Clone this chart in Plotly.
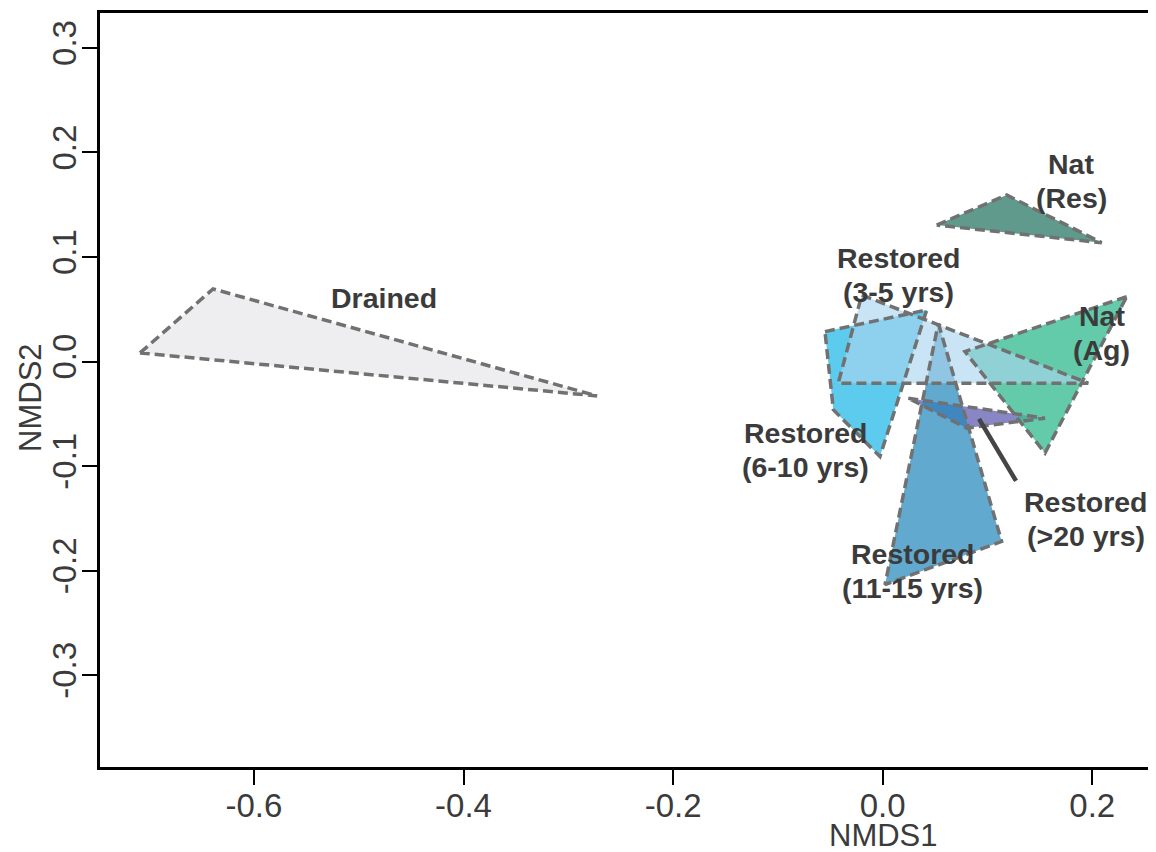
import plotly.graph_objects as go

# ---- data (NMDS hull vertices) ----
groups = ["Drained", "Nat (Res)", "Restored (6-10 yrs)", "Restored (>20 yrs)",
          "Restored (11-15 yrs)", "Nat (Ag)", "Restored (3-5 yrs)"]

drained_x = [-0.7087, -0.6390, -0.2726]
drained_y = [0.0083, 0.0695, -0.0328]

natres_x = [0.0515, 0.1183, 0.2090]
natres_y = [0.1306, 0.1593, 0.1137]

r610_x = [-0.0551, 0.0420, -0.0026, -0.0471]
r610_y = [0.0287, 0.0494, -0.0908, -0.0461]

r20_x = [0.0244, 0.1549, 0.0802]
r20_y = [-0.0350, -0.0541, -0.0636]

r1115_x = [0.0531, 0.1135, 0.0022]
r1115_y = [0.0367, -0.1720, -0.2133]

natag_x = [0.2328, 0.0785, 0.1549]
natag_y = [0.0621, 0.0096, -0.0875]

r35_x = [-0.0200, 0.1962, -0.0424]
r35_y = [0.0637, -0.0206, -0.0206]

hull_x = [drained_x, natres_x, r610_x, r20_x, r1115_x, natag_x, r35_x]
hull_y = [drained_y, natres_y, r610_y, r20_y, r1115_y, natag_y, r35_y]

fill_colors = ["rgb(238,238,241)", "rgb(95,154,141)", "rgb(92,203,237)",
               "rgb(137,134,197)", "rgba(38,136,188,0.72)",
               "rgba(60,190,149,0.8)", "rgba(170,213,238,0.64)"]

label_lines = [["Drained"], ["Nat", "(Res)"], ["Restored", "(6-10 yrs)"],
               ["Restored", "(>20 yrs)"], ["Restored", "(11-15 yrs)"],
               ["Nat", "(Ag)"], ["Restored", "(3-5 yrs)"]]
label_x = [-0.4759, 0.1797, -0.0732, 0.1940, 0.0289, 0.2088, 0.0151]
label_y = [0.0609, 0.1724, -0.0846, -0.1503, -0.2004, 0.0269, 0.0828]

pointer_x = [0.0919, 0.1272]
pointer_y = [-0.0547, -0.1140]

x_ticks = [-0.6, -0.4, -0.2, 0.0, 0.2]
y_ticks = [-0.3, -0.2, -0.1, 0.0, 0.1, 0.2, 0.3]
x_range = [-0.7469, 0.2608]
y_range = [-0.3877, 0.3334]

FONT = "Liberation Sans, Arial, Helvetica, sans-serif"
TXT = "#3b3b3b"

fig = go.Figure()

# fills
for gx, gy, col, name in zip(hull_x, hull_y, fill_colors, groups):
    fig.add_trace(go.Scatter(x=gx + [gx[0]], y=gy + [gy[0]], mode="lines",
                             fill="toself", fillcolor=col,
                             line=dict(width=0, color="rgba(0,0,0,0)"),
                             name=name, showlegend=False, hoverinfo="skip"))
# dashed outlines
for gx, gy, name in zip(hull_x, hull_y, groups):
    fig.add_trace(go.Scatter(x=gx + [gx[0]], y=gy + [gy[0]], mode="lines",
                             line=dict(width=3.5, color="#717171", dash="10px,5px"),
                             name=name, showlegend=False, hoverinfo="skip"))

# pointer line for >20 yrs
fig.add_trace(go.Scatter(x=pointer_x, y=pointer_y, mode="lines",
                         line=dict(width=4.5, color="#454545"),
                         showlegend=False, hoverinfo="skip"))

LINE_GAP = 34
for lines, lx, ly in zip(label_lines, label_x, label_y):
    n = len(lines)
    for i, t in enumerate(lines):
        shift = ((n - 1) / 2 - i) * LINE_GAP
        fig.add_annotation(x=lx, y=ly, xref="x", yref="y", text="<b>" + t + "</b>",
                           showarrow=False, yshift=shift,
                           font=dict(family=FONT, size=28.5, color=TXT),
                           xanchor="center", yanchor="middle", align="center")

# axis titles
fig.add_annotation(x=0.7415, y=-0.091, xref="paper", yref="paper", text="NMDS1",
                   showarrow=False, font=dict(family=FONT, size=31, color=TXT),
                   xanchor="center", yanchor="middle", borderpad=0)
fig.add_annotation(x=-0.0653, y=0.4895, xref="paper", yref="paper", text="NMDS2",
                   showarrow=False, textangle=-90,
                   font=dict(family=FONT, size=31, color=TXT),
                   xanchor="center", yanchor="middle")

# the page body has an 8px margin, so the figure is sized/offset to compensate
fig.update_layout(
    width=1148, height=844,
    margin=dict(l=92, r=0, t=4.7, b=84.5),
    paper_bgcolor="white", plot_bgcolor="white",
    font=dict(family=FONT, size=33, color=TXT),
    showlegend=False,
    xaxis=dict(range=x_range, tickvals=x_ticks,
               ticktext=["%.1f" % v for v in x_ticks],
               ticks="outside", ticklen=15, tickwidth=2, tickcolor="black",
               showline=True, linewidth=2.5, linecolor="black", mirror=True,
               showgrid=False, zeroline=False, ticklabelstandoff=-7,
               tickfont=dict(family=FONT, size=33, color=TXT)),
    yaxis=dict(range=y_range, tickvals=y_ticks,
               ticktext=["%.1f" % v for v in y_ticks],
               ticks="outside", ticklen=15, tickwidth=2, tickcolor="black",
               showline=True, linewidth=2.5, linecolor="black", mirror=False,
               showgrid=False, zeroline=False, tickangle=-90, ticklabelstandoff=-7,
               tickfont=dict(family=FONT, size=33, color=TXT)),
)

fig.write_html("out.html")
